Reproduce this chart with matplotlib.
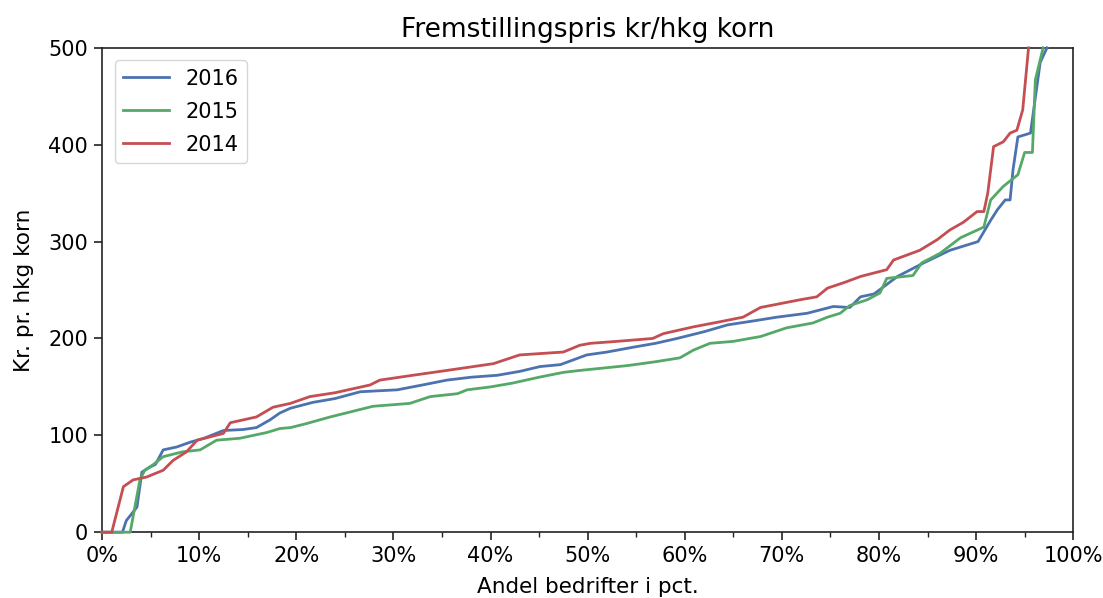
import matplotlib
matplotlib.use("Agg")
import matplotlib.pyplot as plt
from matplotlib.ticker import PercentFormatter, MultipleLocator

# andel bedrifter (pct) og fremstillingspris (kr/hkg)
x_2016 = [0, 2.1, 2.5, 3.6, 4.1, 4.9, 5.5, 6.3, 7.7, 9.1, 10.5, 12.5, 14.5, 15.9, 17.3, 18.3, 19.4,
          21.7, 24.0, 26.6, 30.4, 33.0, 35.5, 38.0, 40.7, 43.0, 45.1, 47.2, 49.9, 52.0, 54.7, 57.0,
          59.2, 62.0, 64.4, 67.0, 69.5, 72.6, 75.3, 77.0, 78.1, 79.5, 81.9, 84.6, 87.3, 90.2,
          91.5, 92.2, 93.0, 93.5, 93.8, 94.3, 95.6, 96.6, 97.3]
y_2016 = [0, 0, 12, 26, 62, 67, 70, 85, 88, 93, 97, 105, 106, 108, 116, 123, 128,
          134, 138, 145, 147, 152, 157, 160, 162, 166, 171, 173, 183, 186, 191, 195,
          200, 207, 214, 218, 222, 226, 233, 232, 243, 246, 264, 278, 291, 300,
          322, 333, 343, 343, 374, 408, 412, 485, 500]

x_2015 = [0, 2.9, 3.9, 4.4, 5.3, 6.3, 8.3, 10.1, 11.8, 14.2, 17.0, 18.3, 19.4, 21.0, 23.5, 25.5,
          27.9, 31.7, 33.8, 36.6, 37.6, 40.0, 42.3, 45.0, 47.5, 49.2, 54.1, 57.0, 59.5, 60.9,
          62.6, 65.0, 67.8, 70.5, 73.2, 74.7, 76.0, 77.0, 78.8, 80.1, 80.8, 83.5, 84.4, 86.3,
          88.4, 90.8, 91.5, 92.8, 94.3, 95.0, 95.8, 96.1, 96.9]
y_2015 = [0, 0, 54, 64, 70, 78, 83, 85, 95, 97, 103, 107, 108, 112, 119, 124,
          130, 133, 140, 143, 147, 150, 154, 160, 165, 167, 172, 176, 180, 188,
          195, 197, 202, 211, 216, 222, 226, 234, 240, 247, 262, 265, 278, 288,
          304, 315, 343, 357, 369, 392, 392, 467, 500]

x_2014 = [0, 1.0, 2.2, 3.2, 4.6, 6.3, 7.3, 8.7, 9.8, 12.5, 13.2, 15.9, 17.6, 19.4, 21.4, 24.0,
          27.6, 28.6, 32.0, 35.5, 40.3, 43.0, 47.5, 49.2, 50.3, 53.0, 56.7, 57.8, 60.9, 63.5,
          66.0, 67.8, 71.9, 73.6, 74.7, 76.5, 78.1, 80.8, 81.5, 84.2, 86.0, 87.3, 88.7, 90.1,
          90.8, 91.2, 91.8, 92.8, 93.5, 94.2, 94.8, 95.4]
y_2014 = [0, 0, 47, 54, 57, 64, 74, 83, 95, 102, 113, 119, 129, 133, 140, 144,
          152, 157, 162, 167, 174, 183, 186, 193, 195, 197, 200, 205, 212, 217,
          222, 232, 240, 243, 252, 258, 264, 271, 281, 291, 302, 312, 320, 331,
          331, 350, 398, 403, 412, 415, 436, 500]

fig, ax = plt.subplots(figsize=(11.03, 5.98), dpi=100)
fig.subplots_adjust(left=0.0925, right=0.973, top=0.92, bottom=0.11)

ax.plot(x_2016, y_2016, color="#4C72B0", lw=2, label="2016", clip_on=False, zorder=3)
ax.plot(x_2015, y_2015, color="#55A868", lw=2, label="2015", clip_on=False, zorder=3)
ax.plot(x_2014, y_2014, color="#C44E52", lw=2, label="2014", clip_on=False, zorder=3)

ax.set_xlim(0, 100)
ax.set_ylim(0, 500)
ax.xaxis.set_major_locator(MultipleLocator(10))
ax.xaxis.set_minor_locator(MultipleLocator(5))
ax.xaxis.set_major_formatter(PercentFormatter(decimals=0))
ax.yaxis.set_major_locator(MultipleLocator(100))
ax.tick_params(which="major", length=6, width=1.2, labelsize=15, color="#222222", pad=4)
ax.tick_params(which="minor", length=3.5, width=1, color="#222222")
for sp in ax.spines.values():
    sp.set_color("#222222")
    sp.set_linewidth(1.2)

ax.set_title("Fremstillingspris kr/hkg korn", fontsize=19, pad=8)
ax.set_xlabel("Andel bedrifter i pct.", fontsize=15.5, labelpad=8)
ax.set_ylabel("Kr. pr. hkg korn", fontsize=15.5, labelpad=10)
ax.legend(loc="upper left", fontsize=15, frameon=True, framealpha=0.8, edgecolor="#cccccc",
          handlelength=2.2, borderaxespad=0.6, labelspacing=0.62)

fig.savefig("out.png", dpi=100)
